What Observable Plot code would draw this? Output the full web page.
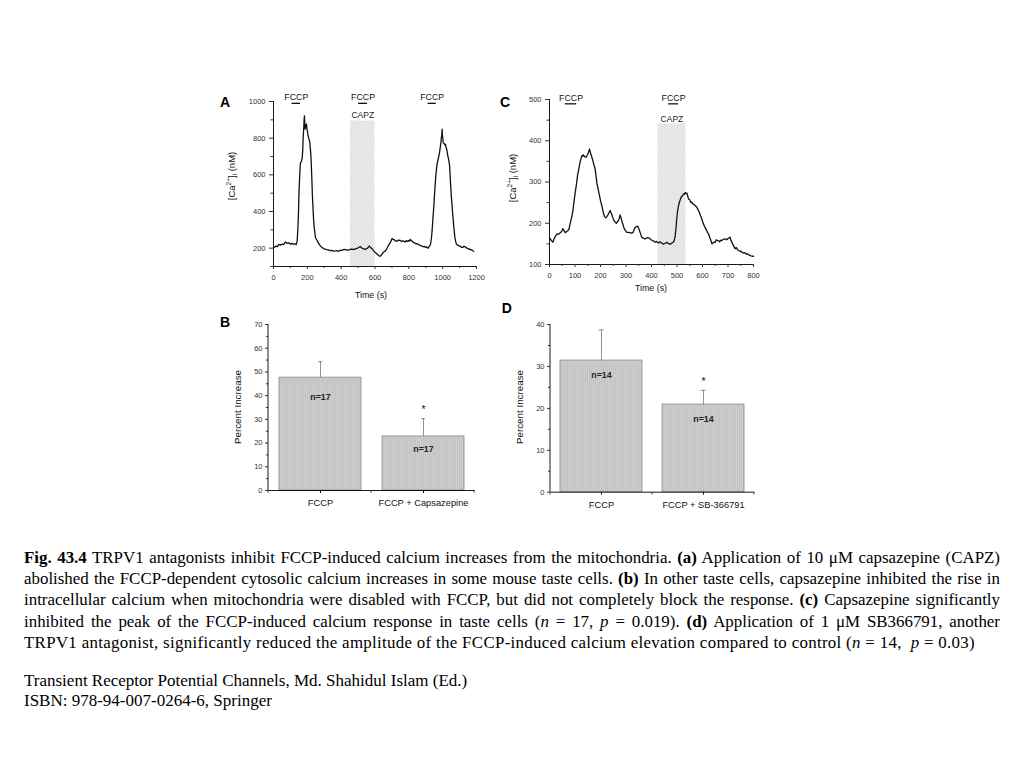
<!DOCTYPE html>
<html><head><meta charset="utf-8">
<script src="https://cdn.jsdelivr.net/npm/d3@7"></script>
<script src="https://cdn.jsdelivr.net/npm/@observablehq/plot@0.6"></script>
<style>
body{margin:0;background:#fff;}
#page{position:relative;width:1024px;height:768px;overflow:hidden;background:#fff;}
.panel{position:absolute;}
.panel svg{display:block;}
.cap{position:absolute;left:24px;width:976px;font-family:"Liberation Serif","Times New Roman",serif;font-size:16.9px;color:#000;}
.cap div{white-space:nowrap;}
.cap .j{text-align:justify;text-align-last:justify;}
</style></head>
<body><div id="page">
<div class="panel" id="pA" style="left:215px;top:85px"></div>
<div class="panel" id="pC" style="left:495px;top:85px"></div>
<div class="panel" id="pB" style="left:215px;top:310px"></div>
<div class="panel" id="pD" style="left:495px;top:300px"></div>
<div class="cap" style="top:547px;line-height:21.2px">
<div class="j"><b>Fig. 43.4</b> TRPV1 antagonists inhibit FCCP-induced calcium increases from the mitochondria. <b>(a)</b> Application of 10 μM capsazepine (CAPZ)</div>
<div class="j">abolished the FCCP-dependent cytosolic calcium increases in some mouse taste cells. <b>(b)</b> In other taste cells, capsazepine inhibited the rise in</div>
<div class="j">intracellular calcium when mitochondria were disabled with FCCP, but did not completely block the response. <b>(c)</b> Capsazepine significantly</div>
<div class="j">inhibited the peak of the FCCP-induced calcium response in taste cells (<i>n</i> = 17, <i>p</i> = 0.019). <b>(d)</b> Application of 1 μM SB366791, another</div>
<div style="letter-spacing:0.3px">TRPV1 antagonist, significantly reduced the amplitude of the FCCP-induced calcium elevation compared to control (<i>n</i> = 14,&nbsp; <i>p</i> = 0.03)</div>
</div>
<div class="cap" style="top:671px;line-height:20px;font-size:17px">
<div>Transient Receptor Potential Channels, Md. Shahidul Islam (Ed.)</div>
<div>ISBN: 978-94-007-0264-6, Springer</div>
</div>
</div>
<script>
// ---------- Panel A trace ----------
const timeA = [0,8,15,22,31,40,50,60,71,80,90,100,110,118,126,134,140,144,148,150,155,158,160,165,170,173,175,179,181,183,185,187,189,192,195,198,201,203,206,208,213,216,220,223,227,230,234,238,243,248,252,258,264,270,277,288,296,305,316,327,336,345,355,366,375,385,395,406,415,425,435,445,455,465,475,485,493,500,507,514,522,530,537,544,550,556,562,567,573,580,587,593,600,610,617,623,630,635,642,650,656,662,670,680,690,701,708,715,722,731,740,750,758,765,770,778,785,790,797,803,809,815,820,825,829,836,843,850,858,868,875,882,890,897,903,908,914,920,928,933,938,943,948,953,958,962,967,972,977,982,987,990,992,995,997,999,1001,1003,1006,1010,1014,1017,1020,1024,1027,1030,1033,1036,1038,1041,1044,1046,1049,1051,1055,1058,1062,1065,1069,1072,1076,1081,1086,1092,1098,1105,1112,1120,1126,1133,1138,1144,1150,1155,1160,1166,1172,1178,1183];
const calciumA = [203,207,212,208,221,216,222,219,234,226,229,222,226,221,224,219,240,303,400,485,600,650,667,672,694,740,795,860,900,922,880,850,858,870,877,848,835,822,810,800,786,760,720,667,570,485,410,340,295,258,250,242,230,222,212,203,198,195,192,190,186,188,184,185,186,183,189,188,193,192,189,190,194,195,192,197,199,202,206,208,201,198,195,194,197,200,208,212,203,200,192,185,178,170,164,158,156,160,168,178,183,185,198,215,230,252,248,245,238,239,244,242,236,240,239,233,241,236,242,238,248,240,238,233,230,228,223,225,218,215,212,208,210,205,208,203,200,208,221,250,300,370,431,510,576,620,658,680,700,725,758,780,800,820,849,810,800,776,772,770,762,766,750,740,722,704,695,680,668,649,600,560,520,485,440,400,360,322,290,260,240,222,218,215,212,210,204,205,210,208,203,200,198,194,195,191,190,186,183];
const fccpA = [[110,160],[503,556],[914,962]];
const capzA = [455,600];
const yMajorA = [200,400,600,800,1000];
const yMinorA = [100,300,500,700,900];
const xMajorA = [0,200,400,600,800,1000,1200];
const xMinorA = [100,300,500,700,900,1100];

// ---------- Panel C trace ----------
const timeC = [0,3,8,13,20,29,35,42,48,52,57,62,67,71,76,81,86,92,96,101,106,110,115,120,124,127,130,133,137,140,144,149,153,157,160,162,166,170,175,179,183,186,191,196,200,205,209,212,216,221,225,229,233,238,241,245,248,251,256,262,266,271,274,277,281,284,288,293,298,303,308,316,322,327,331,336,341,346,350,353,358,362,368,375,383,392,398,405,414,420,427,434,440,447,453,460,466,473,480,486,490,493,496,499,502,506,511,516,521,526,530,532,536,539,542,545,550,554,558,562,566,571,576,580,584,588,592,597,601,606,610,615,619,624,628,632,637,641,645,650,654,658,663,667,672,676,680,685,689,695,700,705,708,712,718,723,728,733,737,741,746,750,754,759,763,767,772,776,780,786,790,795,800];
const calciumC = [165,162,158,154,165,174,173,177,180,187,182,177,180,182,185,199,212,231,252,275,296,316,332,348,358,364,362,366,362,361,360,366,372,380,372,368,360,352,340,332,312,296,282,267,255,243,232,223,216,213,216,220,225,231,226,220,214,209,204,200,203,207,213,220,212,205,197,187,182,178,178,177,176,177,183,190,192,193,187,182,173,166,164,162,165,164,160,158,154,156,152,155,152,149,151,154,151,149,152,154,160,170,188,211,228,243,254,263,266,271,270,275,272,273,266,259,257,250,251,247,246,243,240,236,231,226,219,211,203,195,190,184,178,174,166,160,150,152,154,154,160,158,158,155,159,158,160,162,162,160,163,165,166,158,150,144,138,141,136,134,132,133,130,128,129,128,125,126,124,122,121,120,120];
const fccpC = [[62,107],[467,506]];
const capzC = [425,535];
const yMajorC = [100,200,300,400,500];
const yMinorC = [150,250,350,450];
const xMajorC = [0,100,200,300,400,500,600,700,800];
const xMinorC = [50,150,250,350,450,550,650,750];

// ---------- Panel B bars ----------
const catsB = ["FCCP","FCCP + Capsazepine"];
const meanB = [47.6,22.8];
const semB = [6.7,7.5];
const nB = [17,17];
const sigB = ["","*"];
const yMajorB = [0,10,20,30,40,50,60,70];
const yMinorB = [5,15,25,35,45,55,65];

// ---------- Panel D bars ----------
const catsD = ["FCCP","FCCP + SB-366791"];
const meanD = [31.4,20.9];
const semD = [7.3,3.4];
const nD = [14,14];
const sigD = ["","*"];
const yMajorD = [0,10,20,30,40];
const yMinorD = [5,15,25,35];

const FONT = "Liberation Sans, Arial, Helvetica, sans-serif";
const plain = d => String(d);

function addDefs(svg, id){
  const defs = d3.select(svg).insert("defs", ":first-child");
  const s = defs.append("pattern").attr("id", id+"-shade").attr("patternUnits","userSpaceOnUse").attr("width",3).attr("height",3);
  s.append("rect").attr("width",3).attr("height",3).attr("fill","#ededed");
  s.append("path").attr("d","M0,3L3,0").attr("stroke","#d0d0d0").attr("stroke-width",0.7);
  const b = defs.append("pattern").attr("id", id+"-bar").attr("patternUnits","userSpaceOnUse").attr("width",2).attr("height",4);
  b.append("rect").attr("width",2).attr("height",4).attr("fill","#cdcdcd");
  b.append("rect").attr("x",0).attr("width",0.6).attr("height",4).attr("fill","#bcbcbc");
}

function addText(svg, x, y, txt, o={}){
  const t = d3.select(svg).append("text")
    .attr("x", x).attr("y", y)
    .attr("font-family", FONT)
    .attr("font-size", o.size || 8.5)
    .attr("font-weight", o.weight || "normal")
    .attr("fill", o.fill || "#111")
    .attr("text-anchor", o.anchor || "middle")
    .attr("dominant-baseline", o.baseline || "auto");
  if (o.rotate) t.attr("transform", `rotate(-90 ${x} ${y})`);
  if (txt !== null) t.text(txt);
  return t;
}

function caLabel(svg, x, y){
  const t = addText(svg, x, y, null, {size: 9.5, rotate: true, baseline: "middle"});
  t.append("tspan").text("[Ca");
  t.append("tspan").attr("dy", -3.5).attr("font-size", 6.5).text("2+");
  t.append("tspan").attr("dy", 3.5).text("]");
  t.append("tspan").attr("dy", 2.5).attr("font-size", 6.5).text("i");
  t.append("tspan").attr("dy", -2.5).text(" (nM)");
}

function tracePanel(c){
  const rows = c.t.map((t,i)=>({t, v: c.v[i]}));
  const y0 = c.yDomain[0], x0 = c.xDomain[0];
  const plot = Plot.plot({
    width: c.width, height: c.height,
    marginLeft: c.ml, marginRight: c.mr, marginTop: c.mt, marginBottom: c.mb,
    x: {domain: c.xDomain, label: null},
    y: {domain: c.yDomain, label: null},
    style: {fontFamily: FONT, fontSize: "7.5px", background: "none", color: "#333", overflow: "visible"},
    marks: [
      Plot.rect([c.capz], {x1: d=>d[0], x2: d=>d[1], y1: y0, y2: c.capzTop, fill: `url(#${c.id}-shade)`}),
      Plot.ruleX([x0], {stroke: "#000", strokeWidth: 0.9}),
      Plot.ruleY([y0], {stroke: "#000", strokeWidth: 0.9}),
      Plot.axisY({ticks: c.yMajor, tickFormat: plain, tickSize: 4, tickPadding: 4, label: null, color: "#333", fontSize: 7.5}),
      Plot.axisY({ticks: c.yMinor, tickSize: 2.5, tickFormat: () => "", label: null, color: "#333"}),
      Plot.axisX({ticks: c.xMajor, tickFormat: plain, tickSize: 3, tickPadding: c.xPad, label: null, color: "#333", fontSize: 7.5}),
      Plot.axisX({ticks: c.xMinor, tickSize: 2, tickFormat: () => "", label: null, color: "#333"}),
      Plot.line(rows, {x: "t", y: "v", stroke: "#111", strokeWidth: 1.3, strokeLinejoin: "round"}),
      Plot.ruleY(c.fccp, {x1: d=>d[0], x2: d=>d[1], y: c.fccpBarY, stroke: "#111", strokeWidth: 1.3}),
      Plot.text(c.fccp, {x: d=>(d[0]+d[1])/2, y: c.fccpTextY, text: () => "FCCP", lineAnchor: "bottom", fontSize: 8.8, fill: "#111"}),
      Plot.text([c.capz], {x: d=>(d[0]+d[1])/2, y: c.capzTextY, text: () => "CAPZ", fontSize: 8.5, fill: "#222"})
    ]
  });
  addDefs(plot, c.id);
  return plot;
}

function barPanel(c){
  const rows = c.cats.map((cat,i)=>({cat, v: c.mean[i], top: c.mean[i] + c.sem[i], n: c.n[i], sig: c.sig[i]}));
  const plot = Plot.plot({
    width: c.width, height: c.height,
    marginLeft: c.ml, marginRight: c.mr, marginTop: c.mt, marginBottom: c.mb,
    x: {domain: c.cats, paddingInner: 0.2, paddingOuter: 0.1, label: null},
    y: {domain: c.yDomain, label: null},
    style: {fontFamily: FONT, fontSize: "7.5px", background: "none", color: "#333", overflow: "visible"},
    marks: [
      Plot.barY(rows, {x: "cat", y: "v", fill: `url(#${c.id}-bar)`, stroke: "#8a8a8a", strokeWidth: 0.8}),
      Plot.ruleX(rows, {x: "cat", y1: "v", y2: "top", stroke: "#777", strokeWidth: 0.8}),
      Plot.tickY(rows, {x: "cat", y: "top", stroke: "#777", strokeWidth: 0.8, insetLeft: c.capInset, insetRight: c.capInset}),
      Plot.text(rows, {x: "cat", y: "top", text: "sig", dy: -9, fontSize: 10.5, fill: "#222"}),
      Plot.text(rows.slice(0,1), {x: "cat", y: "v", text: d => "n=" + d.n, dy: c.nDy[0], fontSize: 8.8, fontWeight: "bold", fill: "#222"}),
      Plot.text(rows.slice(1), {x: "cat", y: "v", text: d => "n=" + d.n, dy: c.nDy[1], fontSize: 8.8, fontWeight: "bold", fill: "#222"}),
      Plot.ruleY([c.yDomain[0]], {stroke: "#000", strokeWidth: 0.9}),
      Plot.axisY({ticks: c.yMajor, tickFormat: plain, tickSize: 3, tickPadding: 3, label: null, color: "#333", fontSize: 7.5}),
      Plot.axisY({ticks: c.yMinor, tickSize: 2, tickFormat: () => "", label: null, color: "#333"}),
      Plot.axisX({tickSize: 3, tickPadding: c.xPad, label: null, color: "#111", fontSize: 9.3})
    ]
  });
  addDefs(plot, c.id);
  const xs = plot.scale("x"), ys = plot.scale("y");
  const svg = d3.select(plot);
  const [yb, yt] = ys.range;
  svg.append("line").attr("x1", c.ml).attr("x2", c.ml).attr("y1", yb).attr("y2", yt).attr("stroke", "#000").attr("stroke-width", 0.9);
  const step = xs.step;
  const start = xs.range[0];
  for (let k = 0; k <= c.cats.length; k++) {
    const x = start + k * step;
    svg.append("line").attr("x1", x).attr("x2", x).attr("y1", yb).attr("y2", yb + 3).attr("stroke", "#333").attr("stroke-width", 0.8);
  }
  return plot;
}

// Panel A
const plotA = tracePanel({id: "A", t: timeA, v: calciumA, width: 275, height: 225, ml: 58, mr: 14, mt: 16, mb: 44,
  xDomain: [0,1200], yDomain: [100,1000], capz: capzA, capzTop: 894, capzTextY: 924,
  fccp: fccpA, fccpBarY: 990, fccpTextY: 1006, yMajor: yMajorA, yMinor: yMinorA, xMajor: xMajorA, xMinor: xMinorA, xPad: 5.5});
document.getElementById("pA").appendChild(plotA);
addText(plotA, 10, 21.5, "A", {size: 14, weight: "bold", fill: "#000"});
caLabel(plotA, 17, 91);
addText(plotA, 156, 211, "Time (s)", {size: 8.8, baseline: "middle"});

// Panel C
const plotC = tracePanel({id: "C", t: timeC, v: calciumC, width: 270, height: 225, ml: 54, mr: 12, mt: 14, mb: 46,
  xDomain: [0,800], yDomain: [100,500], capz: capzC, capzTop: 441, capzTextY: 453,
  fccp: fccpC, fccpBarY: 489.5, fccpTextY: 496, yMajor: yMajorC, yMinor: yMinorC, xMajor: xMajorC, xMinor: xMinorC, xPad: 5});
document.getElementById("pC").appendChild(plotC);
addText(plotC, 10, 22, "C", {size: 14, weight: "bold", fill: "#000"});
caLabel(plotC, 18, 93);
addText(plotC, 156, 204, "Time (s)", {size: 8.8, baseline: "middle"});

// Panel B
const plotB = barPanel({id: "B", cats: catsB, mean: meanB, sem: semB, n: nB, sig: sigB, width: 275, height: 205,
  ml: 53, mr: 15, mt: 14, mb: 25, yDomain: [0,70], yMajor: yMajorB, yMinor: yMinorB, capInset: 39, nDy: [20,13], xPad: 6});
document.getElementById("pB").appendChild(plotB);
addText(plotB, 10, 16.5, "B", {size: 14, weight: "bold", fill: "#000"});
addText(plotB, 23.5, 97, "Percent Increase", {size: 9.8, rotate: true, baseline: "middle"});

// Panel D
const plotD = barPanel({id: "D", cats: catsD, mean: meanD, sem: semD, n: nD, sig: sigD, width: 270, height: 215,
  ml: 55, mr: 11, mt: 24, mb: 23.3, yDomain: [0,40], yMajor: yMajorD, yMinor: yMinorD, capInset: 38.5, nDy: [15,15], xPad: 6});
document.getElementById("pD").appendChild(plotD);
addText(plotD, 11.7, 13, "D", {size: 14, weight: "bold", fill: "#000"});
addText(plotD, 25, 107, "Percent Increase", {size: 9.8, rotate: true, baseline: "middle"});
</script>
</body></html>
